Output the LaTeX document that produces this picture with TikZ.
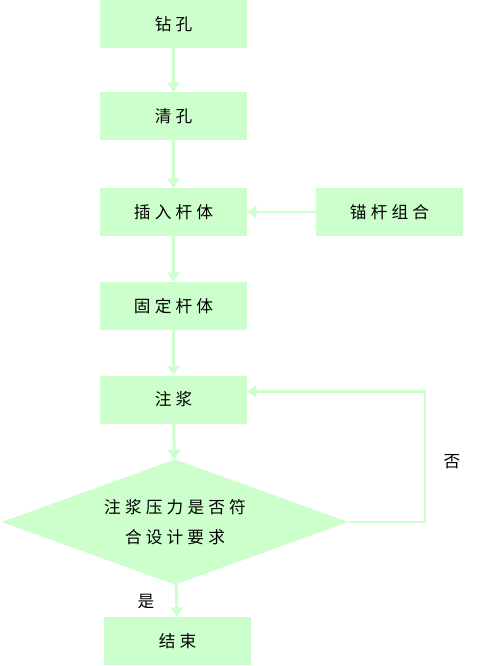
\documentclass[tikz,border=0pt]{standalone}
\usepackage{fontspec}
\setmainfont[LetterSpace=25]{Noto Sans CJK SC}
\usetikzlibrary{shapes.geometric,arrows.meta}
\definecolor{stepgreen}{HTML}{CCFFCC}
\tikzset{
  stepbox/.style={fill=stepgreen, minimum width=110pt, minimum height=36pt, inner sep=0pt, font=\fontsize{12.5}{14}\selectfont},
  flow/.style={draw=stepgreen, line width=2.2pt, -{Triangle[width=9pt,length=7pt]}},
  tag/.style={font=\fontsize{12.5}{14}\selectfont},
}
\begin{document}
\begin{tikzpicture}[x=0.75pt, y=-0.75pt]
    \useasboundingbox (0,0) rectangle (481,666);

    % Main column
    \node[stepbox] (drill) at (173.5,24) {钻孔};
    \node[stepbox] (clean) at (173.5,116) {清孔};
    \node[stepbox] (insert) at (173.5,212) {插入杆体};
    \node[stepbox] (fix) at (173.5,306) {固定杆体};
    \node[stepbox] (grout) at (173.5,399.5) {注浆};

    % Side box
    \node[stepbox] (bolt) at (389.5,212) {锚杆组合};

    % Check
    \node[diamond, fill=stepgreen, minimum width=260pt, minimum height=94pt, inner sep=0pt, aspect=2.77,
          align=center, font=\fontsize{12.5}{23}\selectfont] (check) at (175,522) {注浆压力是否符\\合设计要求};

    % End
    \node[stepbox] (finish) at (177.5,641) {结束};

    % Arrows
    \draw[flow] (drill) -- (clean);
    \draw[flow] (clean) -- (insert);
    \draw[flow] (bolt) -- (insert);
    \draw[flow] (insert) -- (fix);
    \draw[flow] (fix) -- (grout);
    \draw[flow] (grout) -- (check);
    \draw[flow] (check) -- (finish);
    \draw[flow] (check.east) -- (425,522) |- ([yshift=6pt]grout.east);

    % Labels
    \node[tag] (no) at (452,462) {否};
    \node[tag] (yes) at (146,602) {是};
\end{tikzpicture}
\end{document}
